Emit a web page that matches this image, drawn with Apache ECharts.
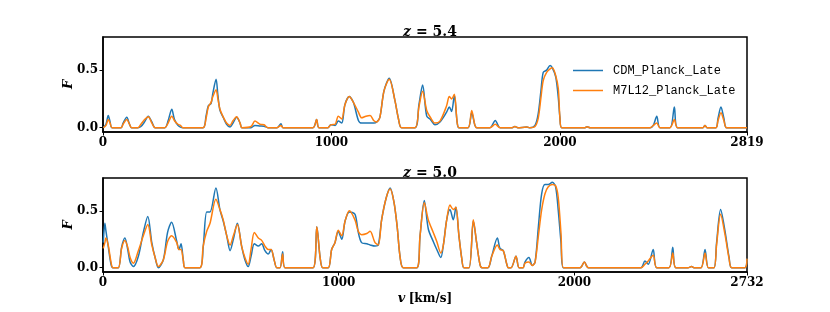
<!DOCTYPE html>
<html><head><meta charset="utf-8">
<script src="https://cdn.jsdelivr.net/npm/echarts@6/dist/echarts.min.js"></script>
<style>html,body{margin:0;padding:0;background:#fff}#c{width:830px;height:312px}</style>
</head><body><div id="c"></div>
<script>
// Panel z = 5.4
const topV   = [1,13,23,31,39,79,88,104,116,125,153,166,182,198,214,228,271,285,301,313,328,339,350,438,451,461,473,481,495,503,512,527,541,556,569,585,600,608,648,665,687,705,722,762,779,788,919,935,945,985,997,1016,1030,1045,1059,1078,1096,1118,1132,1151,1169,1186,1198,1212,1230,1253,1278,1293,1307,1366,1383,1399,1417,1434,1453,1475,1504,1516,1526,1538,1550,1558,1598,1614,1628,1636,1694,1717,1738,1791,1803,1816,1855,1869,1891,1905,1917,1927,1942,1957,1967,1982,1993,2000,2008,2110,2119,2132,2395,2409,2424,2438,2482,2501,2515,2626,2635,2644,2683,2692,2705,2718,2730,2819];
const topCDM = [0,0.03,0.106,0.05,0,0,0.04,0.09,0.03,0,0,0.01,0.05,0.10,0.05,0,0,0.06,0.16,0.07,0.02,0.005,0,0,0.10,0.19,0.21,0.30,0.42,0.28,0.15,0.086,0.03,0.005,0.04,0.09,0.04,0,0,0.02,0.015,0.012,0,0,0.035,0,0,0.07,0,0,0.025,0.02,0.057,0.04,0.20,0.27,0.22,0.063,0.04,0.04,0.04,0.04,0.05,0.09,0.32,0.43,0.235,0.08,0,0,0.20,0.37,0.10,0.07,0.026,0.05,0.135,0.18,0.14,0.28,0.05,0,0,0.13,0.02,0,0,0.063,0,0,0.01,0,0.005,0,0.02,0.12,0.32,0.48,0.50,0.54,0.52,0.44,0.26,0.09,0,0,0.008,0,0,0.02,0.10,0,0,0.18,0,0,0.02,0,0,0.08,0.18,0.08,0,0];
const topM7  = [0,0.02,0.07,0.04,0,0,0.03,0.07,0.03,0,0,0.03,0.07,0.095,0.04,0,0,0.04,0.10,0.06,0.03,0.02,0,0,0.08,0.18,0.22,0.27,0.33,0.25,0.16,0.09,0.04,0.02,0.06,0.095,0.04,0,0.01,0.057,0.03,0.025,0,0,0.02,0,0,0.07,0,0,0.025,0.03,0.10,0.075,0.20,0.27,0.22,0.135,0.086,0.10,0.106,0.06,0.05,0.09,0.32,0.42,0.235,0.08,0,0,0.18,0.316,0.15,0.086,0.04,0.057,0.19,0.27,0.25,0.29,0.05,0,0,0.15,0.02,0,0,0.03,0,0,0.01,0,0.005,0,0.01,0.08,0.26,0.41,0.48,0.51,0.52,0.45,0.34,0.09,0,0,0.008,0,0,0.02,0.04,0,0,0.07,0,0,0.02,0,0,0.06,0.13,0.06,0,0];
// Panel z = 5.0
const botV   = [1,8,12,22,34,42,65,79,93,105,115,129,150,171,190,207,221,235,256,274,291,313,322,331,341,348,411,425,440,454,479,496,510,525,539,553,570,588,602,616,628,642,659,673,687,701,713,727,737,751,762,772,891,907,921,932,956,970,984,998,1013,1027,1045,1069,1083,1097,1119,1133,1154,1168,1182,1201,1218,1234,1248,1260,1274,1331,1345,1363,1380,1401,1416,1433,1444,1458,1472,1486,1497,1510,1522,1531,1553,1571,1585,1599,1608,1633,1649,1673,1684,1698,1713,1719,1731,1752,1765,1782,1790,1807,1821,1833,1847,1861,1875,1889,1906,1920,1931,1943,1953,2024,2042,2059,2282,2299,2313,2334,2349,2401,2417,2430,2482,2497,2507,2537,2554,2568,2592,2603,2620,2638,2656,2667,2723,2732];
const botCDM = [0.22,0.39,0.33,0.19,0.03,0,0,0.18,0.26,0.16,0.05,0.01,0.10,0.31,0.45,0.22,0.09,0,0.07,0.31,0.40,0.23,0.16,0.21,0.06,0,0,0.18,0.49,0.49,0.70,0.51,0.41,0.28,0.15,0.25,0.39,0.19,0.07,0.01,0.10,0.21,0.19,0.21,0.15,0.12,0.16,0.06,0,0,0.14,0,0,0.36,0.09,0,0,0.16,0.22,0.32,0.25,0.41,0.49,0.47,0.31,0.22,0.21,0.20,0.19,0.20,0.42,0.61,0.70,0.58,0.36,0.10,0,0,0.28,0.59,0.34,0.23,0.16,0.09,0.20,0.42,0.51,0.42,0.53,0.28,0.08,0,0,0.41,0.22,0.03,0,0,0.10,0.26,0.17,0.15,0.03,0,0,0.10,0,0,0.05,0.09,0.02,0.05,0.36,0.65,0.73,0.73,0.75,0.71,0.51,0.22,0,0,0.05,0,0,0.06,0.03,0.16,0,0,0.18,0,0,0.01,0,0,0.16,0,0,0.22,0.51,0.33,0.09,0,0,0.08];
const botM7  = [0.17,0.22,0.26,0.20,0.05,0,0,0.17,0.24,0.18,0.09,0.04,0.15,0.28,0.38,0.20,0.09,0.01,0.07,0.23,0.28,0.22,0.16,0.16,0.06,0,0,0.19,0.32,0.39,0.60,0.51,0.42,0.28,0.20,0.28,0.38,0.19,0.09,0.03,0.16,0.31,0.26,0.24,0.19,0.16,0.16,0.06,0,0,0.12,0,0,0.36,0.09,0,0,0.16,0.22,0.33,0.28,0.41,0.50,0.42,0.32,0.29,0.30,0.32,0.22,0.20,0.42,0.61,0.69,0.58,0.36,0.10,0,0,0.28,0.57,0.42,0.31,0.23,0.13,0.20,0.42,0.55,0.51,0.53,0.28,0.08,0,0,0.42,0.22,0.03,0,0,0.10,0.20,0.16,0.15,0.03,0,0,0.10,0,0,0.04,0.05,0.02,0.05,0.28,0.51,0.65,0.71,0.73,0.72,0.62,0.30,0,0,0.05,0,0,0.03,0.06,0.11,0,0,0.13,0,0,0.01,0,0,0.13,0,0,0.20,0.47,0.30,0.08,0,0,0.08];
const topTicks = [0,1000,2000,2819];
const botTicks = [0,1000,2000,2732];
const yTicks = [0,0.5];
const names = ['CDM_Planck_Late','M7L12_Planck_Late'];
const titles = ['5.4','5.0'];

const pair = (xs, ys) => xs.map((x,i)=>[x, ys[i]]);
const serif = 'DejaVu Serif';
const C1 = '#1f77b4', C2 = '#ff7f0e';

function xAxisCfg(idx, max, ticks, withName){
  const a = {
    type:'value', gridIndex:idx, min:0, max:max,
    axisLine:{show:true, onZero:false, lineStyle:{color:'#000', width:1.5}},
    axisTick:{show:true, inside:false, length:3.5, customValues:ticks, lineStyle:{color:'#000', width:1}},
    axisLabel:{show:true, customValues:ticks, margin:5, color:'#000', fontFamily:serif, fontWeight:'bold', fontSize:12,
      formatter:v=>String(v)},
    splitLine:{show:false}
  };
  if (withName){
    a.name = '{i|v} {b|[km/s]}';
    a.nameLocation = 'middle';
    a.nameGap = 20;
    a.nameTextStyle = {rich:{
      i:{fontFamily:serif, fontStyle:'italic', fontWeight:'bold', fontSize:13, color:'#000'},
      b:{fontFamily:serif, fontWeight:'bold', fontSize:12, color:'#000'}}};
  }
  return a;
}
function yAxisCfg(idx){
  return {
    type:'value', gridIndex:idx, min:-0.0375, max:0.7875,
    name:'F', nameLocation:'middle', nameGap:28, nameRotate:90, nameMoveOverlap:false,
    nameTextStyle:{fontFamily:serif, fontStyle:'italic', fontWeight:'bold', fontSize:13, color:'#000'},
    axisLine:{show:true, lineStyle:{color:'#000', width:1.5}},
    axisTick:{show:true, length:3.5, customValues:yTicks, lineStyle:{color:'#000', width:1}},
    axisLabel:{show:true, customValues:yTicks, margin:5, color:'#000', fontFamily:serif, fontWeight:'bold', fontSize:12,
      formatter:v=>v.toFixed(1)},
    splitLine:{show:false}
  };
}
function line(name, xi, data, color){
  return {type:'line', name:name, xAxisIndex:xi, yAxisIndex:xi, data:data, showSymbol:false, symbol:'none',
    smooth:0.3, lineStyle:{color:color, width:1.5}, itemStyle:{color:color}, animation:false, z:3};
}
const titleRich = {
  i:{fontFamily:serif, fontStyle:'italic', fontWeight:'bold', fontSize:14, color:'#000'},
  b:{fontFamily:serif, fontWeight:'bold', fontSize:14, color:'#000'}
};
const chart = echarts.init(document.getElementById('c'), null, {renderer:'canvas'});
chart.setOption({
  backgroundColor:'#fff',
  animation:false,
  title:[
    {text:'{i|z}{b| = '+titles[0]+'}', left:425, top:20, textAlign:'center', textStyle:{rich:titleRich}},
    {text:'{i|z}{b| = '+titles[1]+'}', left:425, top:161, textAlign:'center', textStyle:{rich:titleRich}}
  ],
  legend:{
    data:names, left:573, top:63, orient:'vertical', icon:'rect', itemWidth:30, itemHeight:1.5, itemGap:5, padding:0,
    textStyle:{fontFamily:'Liberation Mono', fontSize:12, lineHeight:15, color:'#000', padding:[0,0,0,5]}
  },
  grid:[
    {left:103, right:83, top:37, height:95, show:true, borderColor:'#000', borderWidth:1.5, backgroundColor:'transparent'},
    {left:103, right:83, top:178, height:94, show:true, borderColor:'#000', borderWidth:1.5, backgroundColor:'transparent'}
  ],
  xAxis:[xAxisCfg(0, 2819, topTicks, false), xAxisCfg(1, 2732, botTicks, true)],
  yAxis:[yAxisCfg(0), yAxisCfg(1)],
  series:[
    line(names[0], 0, pair(topV, topCDM), C1),
    line(names[1], 0, pair(topV, topM7), C2),
    line(names[0], 1, pair(botV, botCDM), C1),
    line(names[1], 1, pair(botV, botM7), C2)
  ]
});
</script></body></html>
